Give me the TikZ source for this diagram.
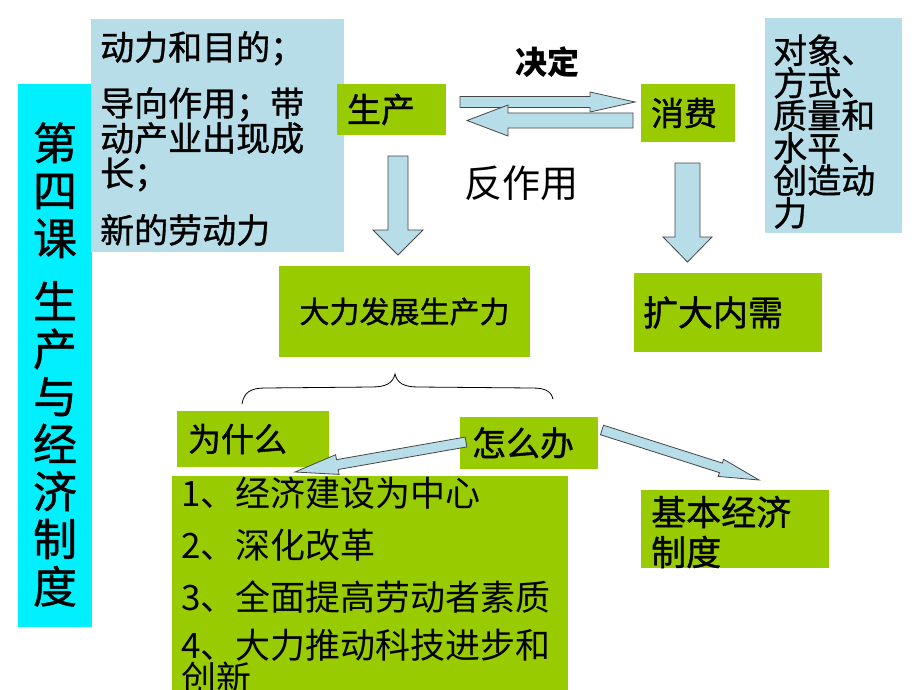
\documentclass[tikz,border=0pt]{standalone}
\usepackage{fontspec}
\setmainfont{Noto Sans CJK SC}
\newfontfamily\heavycjk[FakeBold=1]{Noto Sans CJK SC}
\usetikzlibrary{calc}
\definecolor{boxgreen}{RGB}{153,204,0}
\definecolor{boxblue}{RGB}{183,221,232}
\definecolor{boxcyan}{RGB}{0,240,255}
\definecolor{arrowline}{RGB}{70,70,70}
\newcommand\blockarrow[5]{%
  \path ($(#2)!#5!(#1)$) coordinate (ba-c);
  \draw[barrow] ($(#1)!#3!90:(#2)$) -- ($(ba-c)!#3!90:(#2)$) -- ($(ba-c)!#4!90:(#2)$) -- (#2)
    -- ($(ba-c)!#4!-90:(#2)$) -- ($(ba-c)!#3!-90:(#2)$) -- ($(#1)!#3!-90:(#2)$) -- cycle;
}
\begin{document}
\begin{tikzpicture}[x=1pt,y=-1pt,
  gbox/.style={fill=boxgreen, inner ysep=0pt, outer sep=0pt, anchor=north west},
  bbox/.style={fill=boxblue, inner sep=0pt, outer sep=0pt, anchor=north west},
  cbox/.style={fill=boxcyan, inner sep=0pt, outer sep=0pt, anchor=north west},
  barrow/.style={fill=boxblue, draw=arrowline, line width=0.8pt, line join=miter},
  bracestyle/.style={draw=black, line width=0.8pt},
  txt/.style={inner sep=0pt, align=left, anchor=west},
]
\fill[white] (0,0) rectangle (920,690);
\useasboundingbox (0,0) rectangle (920,690);

% left cyan title box
\node[cbox, minimum width=74pt, minimum height=543pt] (title) at (18,84) {};
\node[inner sep=0pt, align=center, font=\heavycjk\fontsize{44}{47.5}\selectfont] (titletext) at (55,364.5)
  {第\\四\\课\\[16pt]生\\产\\与\\经\\济\\制\\度};

% top-left light blue box
\node[bbox, minimum width=253pt, minimum height=233pt] (roleprod) at (91,19) {};
\node[txt, font=\heavycjk\fontsize{34}{35}\selectfont] (roleprodtext) at (100,138.5)
  {动力和目的；\\[21pt]导向作用；带\\动产业出现成\\长；\\[22pt]新的劳动力};

% top-right light blue box
\node[bbox, minimum width=137pt, minimum height=215pt] (rolecons) at (765,18) {};
\node[txt, font=\heavycjk\fontsize{34}{32.5}\selectfont] (roleconstext) at (773,131.5)
  {对象、\\方式、\\质量和\\水平、\\创造动\\力};

% green boxes
\node[gbox, minimum width=109pt, minimum height=51pt, text width=89pt, inner xsep=10pt, align=left,
  font=\heavycjk\fontsize{34}{34}\selectfont] (prod) at (337,84) {生产};
\node[gbox, minimum width=94pt, minimum height=58pt, text width=74pt, inner xsep=10pt, align=left,
  font=\heavycjk\fontsize{33}{33}\selectfont] (cons) at (641,84) {消费};
\node[gbox, minimum width=251pt, minimum height=91pt, text width=231pt, inner xsep=10pt, align=center,
  font=\heavycjk\fontsize{30}{30}\selectfont] (dev) at (279,266) {大力发展生产力};
\node[gbox, minimum width=188pt, minimum height=79pt, text width=170pt, inner xsep=9pt, align=left,
  font=\heavycjk\fontsize{35}{35}\selectfont] (demand) at (634,273) {扩大内需};
\node[gbox, minimum width=152pt, minimum height=56pt, text width=130pt, inner xsep=11pt, align=left,
  font=\heavycjk\fontsize{33}{33}\selectfont] (why) at (177,411) {为什么};
\node[gbox, minimum width=138pt, minimum height=52pt, text width=114pt, inner xsep=12pt, align=left,
  font=\heavycjk\fontsize{34}{34}\selectfont] (how) at (460,417) {怎么办};

\node[gbox, minimum width=188pt, minimum height=78pt] (basic) at (641,490) {};
\node[txt, font=\heavycjk\fontsize{35}{40}\selectfont] (basictext) at (651,532) {基本经济\\制度};

\node[gbox, minimum width=396pt, minimum height=216pt] (list) at (172,476) {};
\node[txt, font=\fontsize{35}{33}\selectfont] (listtext) at (181,585.5)
  {1、经济建设为中心\\[19pt]2、深化改革\\[19pt]3、全面提高劳动者素质\\[15pt]4、大力推动科技进步和\\创新};

% labels
\node[inner sep=0pt, font=\bfseries\fontsize{32}{32}\selectfont] (decide) at (547,62) {决定};
\node[inner sep=0pt, font=\fontsize{38}{38}\selectfont] (react) at (521,183) {反作用};

% brace
\draw[bracestyle] (242,404) .. controls (244,392) and (251,388) .. (265,388) -- (372,387)
  .. controls (386,387) and (393,383) .. (395,374)
  .. controls (397,383) and (404,387) .. (418,387) -- (532,388)
  .. controls (545,388) and (551,391) .. (553,399);

% block arrows
\coordinate (a1s) at (460,102);   \coordinate (a1e) at (635,102);
\coordinate (a2s) at (633,120.5); \coordinate (a2e) at (467,120.5);
\coordinate (a3s) at (398,156);   \coordinate (a3e) at (398,255);
\coordinate (a4s) at (687.5,163); \coordinate (a4e) at (687.5,262);
\coordinate (a5s) at (466,442);   \coordinate (a5e) at (295,472);
\coordinate (a6s) at (602,430);   \coordinate (a6e) at (759,480);
\blockarrow{a1s}{a1e}{5.5pt}{10pt}{45pt}
\blockarrow{a2s}{a2e}{7.5pt}{15.5pt}{41pt}
\blockarrow{a3s}{a3e}{10pt}{25pt}{25pt}
\blockarrow{a4s}{a4e}{12.5pt}{24.5pt}{25pt}
\blockarrow{a5s}{a5e}{5pt}{10pt}{43pt}
\blockarrow{a6s}{a6e}{5pt}{9pt}{40pt}
\end{tikzpicture}
\end{document}
